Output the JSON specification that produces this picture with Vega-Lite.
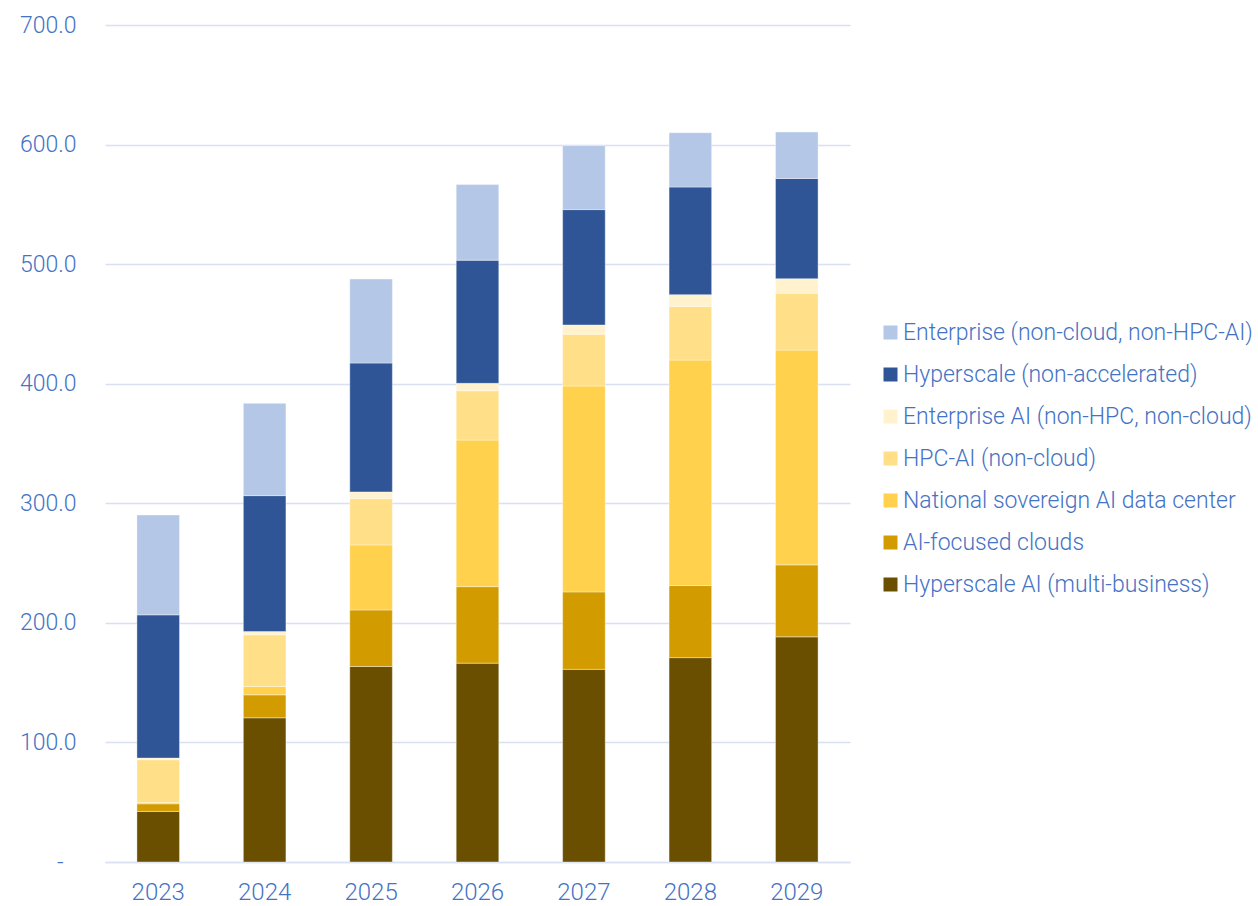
{
  "$schema": "https://vega.github.io/schema/vega-lite/v6.json",
  "autosize": "none",
  "padding": {"left": 105, "top": 25, "right": 408, "bottom": 44},
  "width": 745,
  "height": 837,
  "background": "white",
  "config": {
    "view": {"stroke": null},
    "font": "Roboto",
    "axis": {"labelFont": "Roboto", "labelFontWeight": 300, "labelColor": "#4472C4", "labelFontSize": 23},
    "legend": {"labelFont": "Roboto", "labelFontWeight": 300}
  },
  "data": {
    "values": [
      {"year": "2023", "series": "Hyperscale AI (multi-business)", "rank": 1, "value": 42.3},
      {"year": "2023", "series": "AI-focused clouds", "rank": 2, "value": 6.4},
      {"year": "2023", "series": "National sovereign AI data center", "rank": 3, "value": 1.1},
      {"year": "2023", "series": "HPC-AI (non-cloud)", "rank": 4, "value": 35.7},
      {"year": "2023", "series": "Enterprise AI (non-HPC, non-cloud)", "rank": 5, "value": 1.4},
      {"year": "2023", "series": "Hyperscale (non-accelerated)", "rank": 6, "value": 119.8},
      {"year": "2023", "series": "Enterprise (non-cloud, non-HPC-AI)", "rank": 7, "value": 83.5},
      {"year": "2024", "series": "Hyperscale AI (multi-business)", "rank": 1, "value": 120.6},
      {"year": "2024", "series": "AI-focused clouds", "rank": 2, "value": 19.2},
      {"year": "2024", "series": "National sovereign AI data center", "rank": 3, "value": 7.0},
      {"year": "2024", "series": "HPC-AI (non-cloud)", "rank": 4, "value": 43.2},
      {"year": "2024", "series": "Enterprise AI (non-HPC, non-cloud)", "rank": 5, "value": 2.7},
      {"year": "2024", "series": "Hyperscale (non-accelerated)", "rank": 6, "value": 113.7},
      {"year": "2024", "series": "Enterprise (non-cloud, non-HPC-AI)", "rank": 7, "value": 77.2},
      {"year": "2025", "series": "Hyperscale AI (multi-business)", "rank": 1, "value": 163.5},
      {"year": "2025", "series": "AI-focused clouds", "rank": 2, "value": 47.3},
      {"year": "2025", "series": "National sovereign AI data center", "rank": 3, "value": 54.4},
      {"year": "2025", "series": "HPC-AI (non-cloud)", "rank": 4, "value": 38.7},
      {"year": "2025", "series": "Enterprise AI (non-HPC, non-cloud)", "rank": 5, "value": 5.6},
      {"year": "2025", "series": "Hyperscale (non-accelerated)", "rank": 6, "value": 107.8},
      {"year": "2025", "series": "Enterprise (non-cloud, non-HPC-AI)", "rank": 7, "value": 70.2},
      {"year": "2026", "series": "Hyperscale AI (multi-business)", "rank": 1, "value": 166.3},
      {"year": "2026", "series": "AI-focused clouds", "rank": 2, "value": 64.0},
      {"year": "2026", "series": "National sovereign AI data center", "rank": 3, "value": 122.6},
      {"year": "2026", "series": "HPC-AI (non-cloud)", "rank": 4, "value": 41.2},
      {"year": "2026", "series": "Enterprise AI (non-HPC, non-cloud)", "rank": 5, "value": 6.2},
      {"year": "2026", "series": "Hyperscale (non-accelerated)", "rank": 6, "value": 103.0},
      {"year": "2026", "series": "Enterprise (non-cloud, non-HPC-AI)", "rank": 7, "value": 63.3},
      {"year": "2027", "series": "Hyperscale AI (multi-business)", "rank": 1, "value": 161.1},
      {"year": "2027", "series": "AI-focused clouds", "rank": 2, "value": 64.8},
      {"year": "2027", "series": "National sovereign AI data center", "rank": 3, "value": 172.2},
      {"year": "2027", "series": "HPC-AI (non-cloud)", "rank": 4, "value": 43.3},
      {"year": "2027", "series": "Enterprise AI (non-HPC, non-cloud)", "rank": 5, "value": 7.7},
      {"year": "2027", "series": "Hyperscale (non-accelerated)", "rank": 6, "value": 96.5},
      {"year": "2027", "series": "Enterprise (non-cloud, non-HPC-AI)", "rank": 7, "value": 53.5},
      {"year": "2028", "series": "Hyperscale AI (multi-business)", "rank": 1, "value": 170.9},
      {"year": "2028", "series": "AI-focused clouds", "rank": 2, "value": 60.3},
      {"year": "2028", "series": "National sovereign AI data center", "rank": 3, "value": 188.6},
      {"year": "2028", "series": "HPC-AI (non-cloud)", "rank": 4, "value": 44.8},
      {"year": "2028", "series": "Enterprise AI (non-HPC, non-cloud)", "rank": 5, "value": 9.9},
      {"year": "2028", "series": "Hyperscale (non-accelerated)", "rank": 6, "value": 90.0},
      {"year": "2028", "series": "Enterprise (non-cloud, non-HPC-AI)", "rank": 7, "value": 45.4},
      {"year": "2029", "series": "Hyperscale AI (multi-business)", "rank": 1, "value": 188.3},
      {"year": "2029", "series": "AI-focused clouds", "rank": 2, "value": 60.2},
      {"year": "2029", "series": "National sovereign AI data center", "rank": 3, "value": 179.6},
      {"year": "2029", "series": "HPC-AI (non-cloud)", "rank": 4, "value": 47.6},
      {"year": "2029", "series": "Enterprise AI (non-HPC, non-cloud)", "rank": 5, "value": 12.1},
      {"year": "2029", "series": "Hyperscale (non-accelerated)", "rank": 6, "value": 83.8},
      {"year": "2029", "series": "Enterprise (non-cloud, non-HPC-AI)", "rank": 7, "value": 38.9}
    ]
  },
  "mark": {"type": "bar", "stroke": "#ffffff", "strokeWidth": 0.75, "strokeOpacity": 0.5},
  "encoding": {
    "x": {
      "field": "year",
      "type": "nominal",
      "scale": {"paddingInner": 0.6, "paddingOuter": 0.3},
      "axis": {
        "title": null,
        "labelAngle": 0,
        "ticks": false,
        "domain": true,
        "domainColor": "#D9E1F2",
        "domainWidth": 1.5,
        "labelPadding": 18,
        "labelFontSize": 24
      }
    },
    "y": {
      "field": "value",
      "type": "quantitative",
      "stack": "zero",
      "scale": {"domain": [0, 700], "nice": false},
      "axis": {
        "title": null,
        "values": [0, 100, 200, 300, 400, 500, 600, 700],
        "ticks": false,
        "domain": false,
        "grid": true,
        "gridColor": "#D9E0F2",
        "gridWidth": 1.5,
        "labelPadding": {"condition": {"test": "datum.value == 0", "value": 42}, "value": 29},
        "labelFontSize": 23,
        "labelExpr": "datum.value == 0 ? '-' : format(datum.value, '.1f')"
      }
    },
    "order": {"field": "rank", "type": "quantitative", "sort": "ascending"},
    "color": {
      "field": "series",
      "type": "nominal",
      "scale": {
        "domain": [
          "Enterprise (non-cloud, non-HPC-AI)",
          "Hyperscale (non-accelerated)",
          "Enterprise AI (non-HPC, non-cloud)",
          "HPC-AI (non-cloud)",
          "National sovereign AI data center",
          "AI-focused clouds",
          "Hyperscale AI (multi-business)"
        ],
        "range": ["#B4C7E7", "#2F5597", "#FFF2CC", "#FFDF88", "#FFD14D", "#D29C00", "#6A4F00"]
      },
      "legend": {
        "title": null,
        "orient": "none",
        "legendX": 774,
        "legendY": 296,
        "padding": 0,
        "symbolType": "square",
        "symbolSize": 196,
        "symbolStrokeWidth": 0,
        "labelFontSize": 23,
        "labelColor": "#4472C4",
        "labelOffset": 1,
        "rowPadding": 18,
        "labelLimit": 500
      }
    }
  }
}
